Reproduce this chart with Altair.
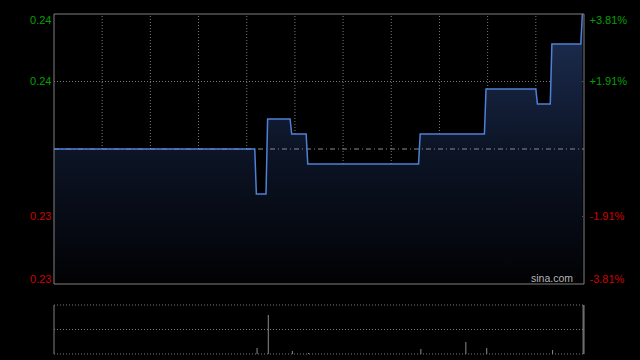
import altair as alt
import pandas as pd

# ---- data (HK session: 330 trading minutes) ----
minutes = [0, 125, 126, 132, 133, 147, 148, 157, 158, 227, 228, 268, 269, 300, 301, 309, 310, 328, 329]
prices = [0.236, 0.236, 0.233, 0.233, 0.238, 0.238, 0.237, 0.237, 0.235, 0.235,
          0.237, 0.237, 0.240, 0.240, 0.239, 0.239, 0.243, 0.243, 0.245]

vol_minutes = [126, 133, 148, 158, 228, 256, 269, 310, 329]
volumes = [60, 390, 30, 10, 50, 120, 60, 40, 490]

prev_close = 0.236
price_min, price_max = 0.227, 0.245
price_ticks = [0.245, 0.2405, 0.2315, 0.227]
left_labels = ["0.24", "0.24", "0.23", "0.23"]
right_labels = ["+3.81%", "+1.91%", "-1.91%", "-3.81%"]
grid_prices = [0.2405, 0.2315]
grid_minutes = [30, 60, 90, 120, 150, 180, 210, 240, 270, 300]
session_minutes = [0, 330]
vol_max = 490
vol_grid = [0, 245, 490]

GREEN = "#00a000"
RED = "#d00000"
GRID = "#7a7a7a"
BORDER = "#808080"
FONT = "Liberation Sans"

price_df = pd.DataFrame({"m": minutes, "p": prices})
vol_df = pd.DataFrame({"m": vol_minutes, "v": volumes})
one = pd.DataFrame({"k": [0]})

xs = alt.Scale(domain=session_minutes, nice=False, zero=False)
ps = alt.Scale(domain=[price_min, price_max], range=[270, 0], nice=False, zero=False)
vs = alt.Scale(domain=[0, vol_max], range=[340, 291], nice=False, zero=False)


def label_expr(values, labels):
    e = "''"
    for v, l in reversed(list(zip(values, labels))):
        e = f"abs(datum.value - {v}) < 1e-7 ? '{l}' : ({e})"
    return e


color_expr = f"datum.value > {prev_close} ? '{GREEN}' : '{RED}'"

# vertical grid in price panel
vgrid = alt.Chart(pd.DataFrame({"m": grid_minutes})).mark_rule(
    color=GRID, strokeDash=[1, 2], strokeWidth=1
).encode(
    x=alt.X("m:Q", scale=xs, axis=None),
    y=alt.YDatum(price_min, scale=ps, axis=None),
    y2=alt.datum(price_max),
)

hgrid = alt.Chart(pd.DataFrame({"p": grid_prices})).mark_rule(
    color=GRID, strokeDash=[1, 2], strokeWidth=1
).encode(
    y=alt.Y("p:Q", scale=ps, axis=None),
    x=alt.XDatum(0, scale=xs, axis=None),
    x2=alt.datum(330),
)

area = alt.Chart(price_df).mark_area(
    interpolate="linear",
    color=alt.Gradient(
        gradient="linear",
        stops=[alt.GradientStop(color="#1f3056", offset=0),
               alt.GradientStop(color="#0c1426", offset=0.5),
               alt.GradientStop(color="#020204", offset=1)],
        x1=0, x2=0, y1=0, y2=1,
    ),
).encode(
    x=alt.X("m:Q", scale=xs, axis=None),
    y=alt.Y("p:Q", scale=ps, axis=None),
    y2=alt.datum(price_min),
)

prev_rule = alt.Chart(one).mark_rule(
    color="#8c8c8c", strokeDash=[5, 3, 1, 3], strokeWidth=1
).encode(
    y=alt.YDatum(prev_close, scale=ps, axis=None),
    x=alt.XDatum(0, scale=xs, axis=None),
    x2=alt.datum(330),
)

line = alt.Chart(price_df).mark_line(
    interpolate="linear", color="#4f80d8", strokeWidth=1.5
).encode(
    x=alt.X("m:Q", scale=xs, axis=None),
    y=alt.Y("p:Q", scale=ps, axis=None),
)

border = alt.Chart(one).mark_rect(
    fillOpacity=0, stroke=BORDER, strokeWidth=1
).encode(
    x=alt.XDatum(0, scale=xs, axis=None),
    x2=alt.datum(330),
    y=alt.YDatum(price_min, scale=ps, axis=None),
    y2=alt.datum(price_max),
)

sina = alt.Chart(one).mark_text(
    text="sina.com", align="right", baseline="alphabetic", dx=-11, dy=-2,
    color="#b4b4b4", fontSize=10.5, font=FONT,
).encode(
    x=alt.XDatum(330, scale=xs, axis=None),
    y=alt.YDatum(price_min, scale=ps, axis=None),
)

axis_common = dict(
    values=price_ticks, grid=False, domain=False, ticks=False,
    labelFont=FONT, labelFontSize=11, labelFlush=True, labelFlushOffset=0,
    labelColor=alt.ExprRef(expr=color_expr), title=None,
)

left_axis = alt.Chart(pd.DataFrame({"p": price_ticks})).mark_rule(opacity=0).encode(
    y=alt.Y("p:Q", scale=ps, axis=alt.Axis(orient="left", labelPadding=3,
                                            labelExpr=label_expr(price_ticks, left_labels),
                                            **axis_common)),
    x=alt.XDatum(0, scale=xs, axis=None),
)

right_axis = alt.Chart(pd.DataFrame({"p": price_ticks})).mark_rule(opacity=0).encode(
    y=alt.Y("p:Q", scale=ps, axis=alt.Axis(orient="right", labelPadding=5,
                                            labelExpr=label_expr(price_ticks, right_labels),
                                            **axis_common)),
    x=alt.XDatum(0, scale=xs, axis=None),
)

# volume panel
vgrid_h = alt.Chart(pd.DataFrame({"v": vol_grid})).mark_rule(
    color=GRID, strokeDash=[1, 2], strokeWidth=1
).encode(
    y=alt.Y("v:Q", scale=vs, axis=None),
    x=alt.XDatum(0, scale=xs, axis=None),
    x2=alt.datum(330),
)

vsides = alt.Chart(pd.DataFrame({"m": session_minutes})).mark_rule(
    color=BORDER, strokeWidth=1
).encode(
    x=alt.X("m:Q", scale=xs, axis=None),
    y=alt.YDatum(0, scale=vs, axis=None),
    y2=alt.datum(vol_max),
)

vbars = alt.Chart(vol_df).mark_rule(color="#8a8a8a", strokeWidth=1, xOffset=0.7).encode(
    x=alt.X("m:Q", scale=xs, axis=None),
    y=alt.Y("v:Q", scale=vs, axis=None),
    y2=alt.datum(0),
)

chart = alt.layer(
    vgrid, hgrid, area, prev_rule, line, border, sina, left_axis, right_axis,
    vgrid_h, vsides, vbars,
).resolve_scale(y="independent").properties(
    width=530, height=341,
    autosize=alt.AutoSizeParams(type="none"),
    padding={"left": 54, "top": 14, "right": 56, "bottom": 5},
    background="#000000",
).configure_view(stroke=None)

chart.save("out.html", embed_options={"renderer": "svg", "actions": False})
